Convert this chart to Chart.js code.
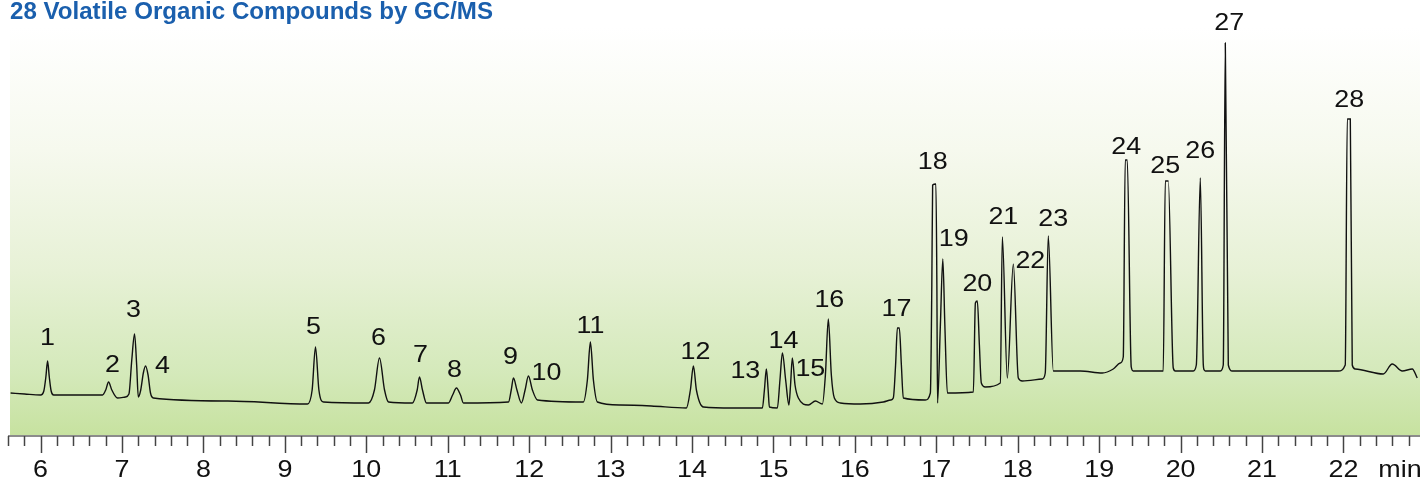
<!DOCTYPE html>
<html lang="en">
<head>
<meta charset="utf-8">
<title>28 Volatile Organic Compounds by GC/MS</title>
<script src="https://cdn.jsdelivr.net/npm/chart.js@4.4.0/dist/chart.umd.min.js"></script>
<style>
  html, body { margin: 0; padding: 0; background: #fff; }
  #wrap { width: 1424px; height: 480px; }
</style>
</head>
<body>
<div id="wrap"><canvas id="gcChart" width="1424" height="480"></canvas></div>
<script>
const chartTitle = '28 Volatile Organic Compounds by GC/MS';
const axisUnit = 'min';

// Kromatogram - vrijeme zadržavanja (min) i odziv detektora, očitano sa slike
const retentionTime = [
    5.632, 5.804, 6.000, 6.040, 6.065, 6.086, 6.107, 6.130, 6.160,
    6.761, 6.800, 6.835, 6.875, 6.945,
    7.040, 7.085, 7.120, 7.154, 7.180, 7.200, 7.230, 7.262, 7.289, 7.320, 7.350, 7.385,
    8.300, 9.278, 9.335, 9.376, 9.418, 9.474,
    10.027, 10.100, 10.162, 10.224, 10.273,
    10.567, 10.625, 10.653, 10.690, 10.739,
    11.009, 11.060, 11.107, 11.157, 11.193,
    11.746, 11.780, 11.807, 11.850, 11.905, 11.950, 11.991, 12.040, 12.102,
    12.666, 12.715, 12.752, 12.789, 12.838, 13.121, 13.500,
    13.931, 13.980, 14.017, 14.054, 14.140, 14.500,
    14.864, 14.889, 14.913, 14.935, 14.950,
    15.048, 15.080, 15.110, 15.150, 15.190, 15.210, 15.232, 15.265, 15.306,
    15.429, 15.515, 15.601, 15.638, 15.674, 15.711, 15.748, 15.822, 16.067,
    16.350, 16.440, 16.472, 16.500, 16.522, 16.546, 16.571, 16.595, 16.865,
    16.927, 16.945, 16.955, 16.995, 17.007, 17.015, 17.050, 17.080, 17.105, 17.136,
    17.455, 17.480, 17.504, 17.529, 17.553, 17.602,
    17.786, 17.811, 17.872, 17.946, 18.007, 18.056,
    18.302, 18.338, 18.375, 18.437, 18.768,
    19.038, 19.173, 19.259, 19.296, 19.320, 19.345, 19.394, 19.419,
    19.787, 19.812, 19.849, 19.910, 19.935,
    20.156, 20.193, 20.242, 20.279, 20.290, 20.304,
    20.488, 20.524, 20.549, 20.586, 20.635,
    21.936, 22.022, 22.047, 22.084, 22.108, 22.145,
    22.489, 22.599, 22.722, 22.845, 22.906
];
const signal = [
    42, 41, 40, 44, 58, 74, 58, 44, 40,
    40, 45, 53, 45, 37,
    38, 41, 75, 101, 70, 38, 45, 62, 69, 60, 42, 37,
    34, 31, 45, 88, 45, 33,
    32, 45, 77, 45, 33,
    32, 45, 58, 45, 32,
    32, 40, 47, 40, 32,
    33, 45, 57, 45, 32, 45, 59, 45, 35,
    33, 55, 93, 55, 33, 30, 29,
    27, 45, 69, 45, 28, 27,
    27, 45, 66, 45, 28,
    27, 55, 82, 55, 30, 50, 77, 50, 37,
    30, 34, 31, 60, 116, 60, 37, 32, 31,
    33, 35, 37, 70, 107, 107, 70, 37, 35,
    42, 150, 250, 251, 150, 32, 110, 176, 110, 42,
    43, 132, 134, 90, 52, 48,
    52, 198, 57, 171, 57, 54,
    56, 62, 199, 64, 64,
    62, 66, 72, 78, 275, 275, 68, 64,
    64, 254, 254, 67, 64,
    64, 70, 257, 70, 65, 64,
    64, 70, 392, 70, 64,
    64, 70, 316, 316, 70, 66,
    61, 71, 64, 66, 57
];

// Brojevi pikova i njihova vremena zadržavanja (vrh pika)
const peakNumbers = [
    '1', '2', '3', '4', '5', '6', '7', '8', '9', '10', '11', '12', '13', '14',
    '15', '16', '17', '18', '19', '20', '21', '22', '23', '24', '25', '26', '27', '28'
];
const peakTimes = [
    6.086, 6.835, 7.154, 7.289, 9.376, 10.162, 10.653, 11.107, 11.807, 11.991,
    12.752, 14.017, 14.913, 15.110, 15.232, 15.674, 16.522, 16.955, 17.080, 17.504,
    17.811, 17.946, 18.375, 19.320, 19.812, 20.242, 20.549, 22.047
];

// Oznake osi
const majorTicks = [6, 7, 8, 9, 10, 11, 12, 13, 14, 15, 16, 17, 18, 19, 20, 21, 22];

// Pomak oznake pika u odnosu na vrh (px)
const labelOffsets = [
    [0, -23], [4, -17], [-1, -24], [17, 0], [-2, -20], [-1, -20], [1, -22], [-2, -18],
    [-3, -21], [18, -3], [0, -16], [2, -14], [-21, 2], [1, -12], [18, 11], [1, -19],
    [-1, -19], [0, -23], [11, -20], [0, -17], [1, -20], [17, -3], [5, -17], [1, -13],
    [0, -15], [0, -27], [4, -20], [2, -19]
];

const FONT = "'Liberation Sans', Arial, Helvetica, sans-serif";
const STRETCH = 1.12; // tekst na originalu je vodoravno razvučen

function stretchedText(ctx, text, x, y, sx) {
    ctx.save();
    ctx.translate(x, y);
    ctx.scale(sx, 1);
    ctx.fillText(text, 0, 0);
    ctx.restore();
}

// Pozadina - gradijent od bijele prema svijetlo zelenoj
const backgroundPlugin = {
    id: 'gcBackground',
    beforeDatasetsDraw(chart) {
        const { ctx, chartArea } = chart;
        const g = ctx.createLinearGradient(0, chartArea.top, 0, chartArea.bottom);
        g.addColorStop(0, '#ffffff');
        g.addColorStop(0.3, '#f6f9ee');
        g.addColorStop(0.6, '#e7f1d6');
        g.addColorStop(0.85, '#d4e9ba');
        g.addColorStop(1, '#c7e2a0');
        ctx.save();
        ctx.fillStyle = g;
        ctx.fillRect(chartArea.left + 2, chartArea.top, chartArea.right - chartArea.left - 2, chartArea.bottom - chartArea.top);
        ctx.restore();
    }
};

// Brojevi iznad pikova
const peakLabelPlugin = {
    id: 'gcPeakLabels',
    afterDatasetsDraw(chart) {
        const { ctx } = chart;
        const xs = chart.scales.x;
        const ys = chart.scales.y;
        ctx.save();
        ctx.fillStyle = '#111';
        ctx.font = '24px ' + FONT;
        ctx.textAlign = 'center';
        ctx.textBaseline = 'middle';
        peakNumbers.forEach((num, i) => {
            let best = -1;
            retentionTime.forEach((t, j) => {
                if (Math.abs(t - peakTimes[i]) <= 0.03 && (best < 0 || signal[j] > signal[best])) best = j;
            });
            if (best < 0) return;
            const px = xs.getPixelForValue(retentionTime[best]);
            const py = ys.getPixelForValue(signal[best]);
            stretchedText(ctx, num, px + labelOffsets[i][0], py + labelOffsets[i][1], STRETCH);
        });
        ctx.restore();
    }
};

// Os vremena - crtice, brojevi, jedinica i naslov
const axisPlugin = {
    id: 'gcAxis',
    afterDraw(chart) {
        const { ctx, chartArea } = chart;
        const xs = chart.scales.x;
        const y0 = chartArea.bottom + 1;
        ctx.save();
        ctx.strokeStyle = '#666';
        ctx.lineWidth = 1.5;
        ctx.beginPath();
        ctx.moveTo(chartArea.left, y0);
        ctx.lineTo(chartArea.right, y0);
        ctx.stroke();

        ctx.strokeStyle = '#444';
        xs.ticks.forEach(tk => {
            const major = majorTicks.includes(Math.round(tk.value * 5) / 5);
            const x = Math.round(xs.getPixelForValue(tk.value)) + 0.5;
            ctx.beginPath();
            ctx.moveTo(x, y0);
            ctx.lineTo(x, y0 + (major ? 17 : 10));
            ctx.stroke();
        });

        ctx.fillStyle = '#111';
        ctx.font = '24px ' + FONT;
        ctx.textAlign = 'center';
        ctx.textBaseline = 'middle';
        majorTicks.forEach(v => {
            stretchedText(ctx, String(v), xs.getPixelForValue(v), 470, STRETCH);
        });
        stretchedText(ctx, axisUnit, 1400, 470, STRETCH);

        // naslov
        ctx.fillStyle = '#1a5fad';
        ctx.font = 'bold 23px ' + FONT;
        ctx.textAlign = 'left';
        ctx.textBaseline = 'alphabetic';
        const w = ctx.measureText(chartTitle).width;
        stretchedText(ctx, chartTitle, 10, 19, 483 / w);
        ctx.restore();
    }
};

const ctx = document.getElementById('gcChart').getContext('2d');
new Chart(ctx, {
    type: 'line',
    data: {
        datasets: [{
            label: 'GC/MS',
            data: retentionTime.map((t, i) => ({ x: t, y: signal[i] })),
            borderColor: '#111',
            borderWidth: 1.4,
            pointRadius: 0,
            fill: false,
            cubicInterpolationMode: 'monotone'
        }]
    },
    options: {
        responsive: false,
        animation: false,
        layout: { padding: { left: 8, right: 4, top: 27, bottom: 0 } },
        plugins: {
            legend: { display: false },
            tooltip: { enabled: false },
            title: { display: false }
        },
        scales: {
            x: {
                type: 'linear',
                min: 5.6,
                max: 22.94,
                grid: { display: false },
                border: { display: false },
                ticks: { display: false },
                afterBuildTicks: scale => {
                    const list = [];
                    for (let i = 28; i <= 114; i++) list.push({ value: i / 5 });
                    scale.ticks = list;
                },
                afterFit: scale => { scale.height = 45; }
            },
            y: {
                display: false,
                min: 0,
                max: 408
            }
        }
    },
    plugins: [backgroundPlugin, peakLabelPlugin, axisPlugin]
});
</script>
</body>
</html>
